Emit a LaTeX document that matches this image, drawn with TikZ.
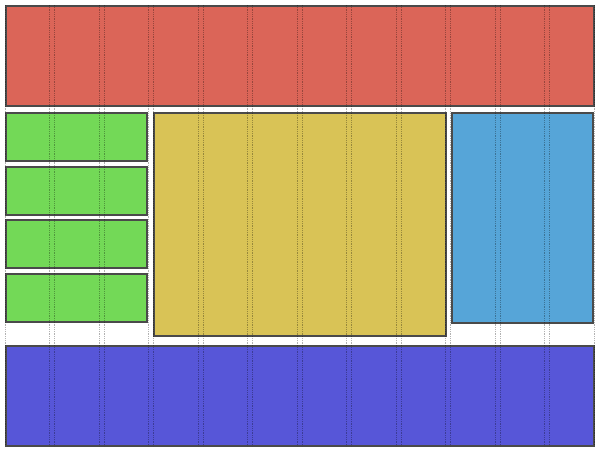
\documentclass[tikz,border=0pt]{standalone}
\definecolor{cred}{HTML}{DB6558}
\definecolor{cgreen}{HTML}{73D957}
\definecolor{cyellow}{HTML}{D9C356}
\definecolor{cblue}{HTML}{56A5D8}
\definecolor{cpurple}{HTML}{5756D8}
\definecolor{cborder}{HTML}{4A4A4A}
\begin{document}
\begin{tikzpicture}[x=1pt,y=-1pt,
  blockbox/.style={draw=cborder,line width=2pt},
  gridline/.style={draw=black,densely dotted,line width=0.8pt,opacity=0.3}]
\useasboundingbox (0,0) rectangle (600,457);
\fill[white] (0,0) rectangle (600,457);
% blocks
\path[blockbox,fill=cred] (6,6) rectangle (594,106);
\path[blockbox,fill=cgreen] (6,113) rectangle (147,161);
\path[blockbox,fill=cgreen] (6,167) rectangle (147,215);
\path[blockbox,fill=cgreen] (6,220) rectangle (147,268);
\path[blockbox,fill=cgreen] (6,274) rectangle (147,322);
\path[blockbox,fill=cyellow] (154,113) rectangle (446,336);
\path[blockbox,fill=cblue] (452,113) rectangle (593,323);
\path[blockbox,fill=cpurple] (6,346) rectangle (594,446);
% grid lines
\foreach \i in {0,...,11}{
  \pgfmathsetmacro{\xa}{5+49.5*\i}
  \pgfmathsetmacro{\xb}{\xa+44.5}
  \draw[gridline] (\xa,5) -- (\xa,446);
  \draw[gridline] (\xb,5) -- (\xb,446);
}
\end{tikzpicture}
\end{document}
